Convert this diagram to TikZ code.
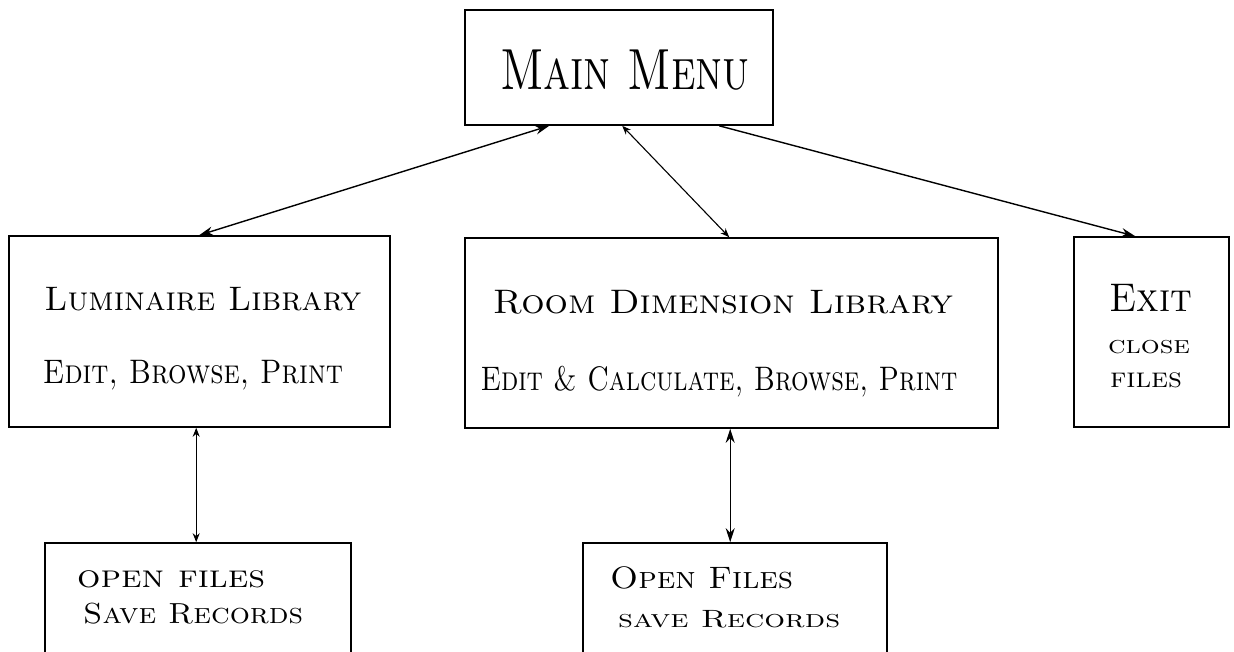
\documentclass[tikz,border=0pt]{standalone}
\usepackage{graphicx}
\usetikzlibrary{arrows.meta}
\newcommand\tw[2]{\resizebox{#1}{\height}{#2}}
\begin{document}
\begin{tikzpicture}[x=1pt,y=-1pt,
  box/.style={draw,line width=1.6pt,inner sep=0pt,minimum width=#1},
  conn/.style={line width=1.4pt,{Stealth[length=14pt,width=9pt]}-{Stealth[length=14pt,width=9pt]}},
  connsm/.style={line width=1.1pt,{Stealth[length=9pt,width=7pt]}-{Stealth[length=9pt,width=7pt]}},
  oneway/.style={line width=1.4pt,-{Stealth[length=14pt,width=9pt]}},
  txt/.style={inner sep=0pt,anchor=base,font=\fontsize{#1}{#1}\selectfont\scshape},
  ltxt/.style={inner sep=0pt,anchor=base west,font=\fontsize{#1}{#1}\selectfont\scshape}]
\useasboundingbox (0,0) rectangle (1234,652);
\clip (0,0) rectangle (1234,652);
% boxes
\node[box=308pt,minimum height=115pt] (mm) at (619,67.5) {};
\node[box=381pt,minimum height=191pt] (lu) at (199.5,331.5) {};
\node[box=533pt,minimum height=190pt] (ro) at (731.5,333) {};
\node[box=155pt,minimum height=190pt] (ex) at (1151.5,332) {};
\node[box=306pt,minimum height=157pt] (of) at (198,621.5) {};
\node[box=304pt,minimum height=157pt] (os) at (735,621.5) {};
% connectors
\draw[conn] ([xshift=85pt]mm.south west) -- ([xshift=191pt]lu.north west);
\draw[connsm] ([xshift=158pt]mm.south west) -- ([xshift=265pt]ro.north west);
\draw[oneway] ([xshift=255pt]mm.south west) -- ([xshift=62pt]ex.north west);
\draw[connsm,line width=0.9pt] ([xshift=188pt]lu.south west) -- ([xshift=152pt]of.north west);
\draw[conn,line width=1.3pt] ([xshift=266pt]ro.south west) -- ([xshift=148pt]os.north west);
% texts
\node[txt=58] (tmm) at (625,90) {\tw{250pt}{Main Menu}};
\node[txt=34] (tlu1) at (203,310) {\tw{317pt}{Luminaire Library}};
\node[txt=34] (tlu2) at (193,383) {\tw{300pt}{Edit, Browse, Print}};
\node[txt=34] (tro1) at (723,313) {\tw{460pt}{Room Dimension Library}};
\node[txt=34] (tro2) at (719,390) {\tw{477pt}{Edit \& Calculate, Browse, Print}};
\node[txt=40] (tex1) at (1151,312) {\tw{83pt}{Exit}};
\node[txt=25] (tex2) at (1149,353) {\tw{82pt}{close}};
\node[txt=28] (tex3) at (1146,387) {\tw{72pt}{files}};
\node[ltxt=32] (tof1) at (77,587) {\tw{188pt}{open files}};
\node[ltxt=29] (tof2) at (83,623) {\tw{220pt}{Save Records}};
\node[ltxt=31] (tos1) at (610,588) {\tw{183pt}{Open Files}};
\node[ltxt=25] (tos2) at (618,627) {\tw{222pt}{save Records}};
\end{tikzpicture}
\end{document}
